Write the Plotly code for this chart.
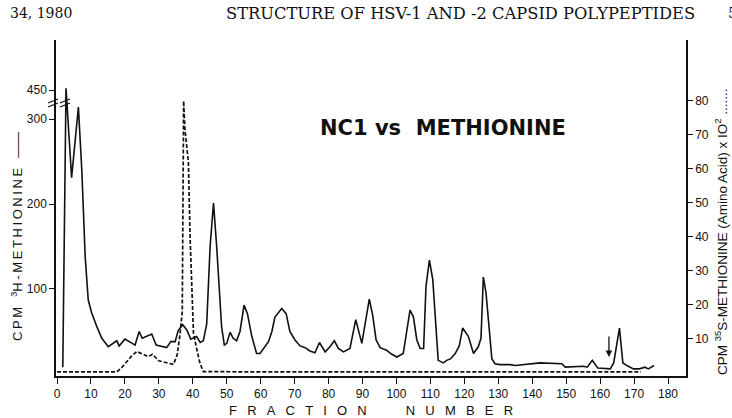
import plotly.graph_objects as go

# ---------------- data ----------------
# 3H-methionine (left axis, CPM) : fraction number / value
h3_fraction = [1.7, 2.65, 4.3, 6.3, 7.3, 8.3, 9.2, 10.2, 11.7, 13.2, 15.1, 17.6, 18.3, 20.0, 23.0,
               24.2, 25.1, 27.9, 29.2, 32.3, 33.5, 34.8, 35.7, 37.0, 38.2, 39.4, 41.1, 42.2, 43.1,
               44.1, 45.1, 46.1, 47.0, 48.5, 49.3, 50.0, 51.0, 51.9, 52.9, 53.9, 55.1, 56.1, 57.4,
               58.8, 59.8, 60.8, 62.3, 63.3, 64.2, 66.2, 67.5, 68.6, 70.1, 71.6, 73.1, 74.5, 76.0,
               77.3, 79.0, 80.4, 81.7, 82.9, 84.4, 86.3, 88.0, 89.8, 91.0, 92.0, 93.0, 94.0, 95.2,
               97.1, 98.3, 100.1, 102.0, 103.0, 104.0, 105.0, 106.0, 107.0, 108.0, 108.7, 109.7,
               110.7, 112.3, 113.8, 114.8, 116.0, 117.3, 118.5, 119.5, 121.2, 122.7, 124.1, 124.9,
               125.6, 126.4, 128.1, 129.0, 130.5, 133.5, 135.0, 138.0, 142.3, 148.7, 149.7, 155.1,
               156.2, 157.7, 159.3, 163.0, 164.0, 165.7, 166.7, 168.3, 169.8, 171.6, 173.2, 174.2,
               175.9]
h3_cpm = [8, 470, 231, 314, 240, 138, 87, 72, 56, 42, 32, 39, 33, 41, 34,
          50, 42, 47, 34, 31, 38, 38, 51, 58, 52, 41, 44, 37, 39,
          59, 150, 201, 152, 55, 34, 36, 49, 42, 39, 50, 81, 71, 44,
          24, 24, 30, 38, 50, 67, 77, 71, 50, 40, 33, 31, 27, 25,
          37, 26, 32, 39, 30, 26, 30, 64, 36, 64, 88, 69, 40, 31,
          28, 24, 20, 24, 48, 75, 67, 40, 30, 30, 103, 134,
          111, 16, 13, 16, 18, 24, 33, 54, 44, 24, 32, 42,
          114, 95, 18, 12, 11, 11, 10, 11, 13, 12, 8, 9,
          8, 16, 7, 6, 13, 54, 13, 9, 6, 6, 8, 6,
          10]

# 35S-methionine amino acid marker (right axis, CPM x 10^2)
s35_fraction = [0, 10, 17.6, 19.0, 20.5, 22.0, 23.5, 24.4, 26.9, 28.1, 29.9, 32.3, 34.3, 35.4,
                36.2, 36.9, 37.3, 37.7, 38.7, 39.2, 40.2, 41.2, 42.1, 43.1, 60, 100, 140, 172]
s35_cpm = [0.3, 0.3, 0.3, 1.5, 3.3, 5.0, 6.3, 5.9, 4.8, 5.5, 3.6, 3.0, 2.5, 5.3,
           11.0, 18.0, 80.0, 71.5, 62.0, 40.0, 11.7, 6.8, 2.9, 0.4, 0.3, 0.3, 0.3, 0.3]

x_ticks = list(range(0, 181, 10))
left_ticks = [100, 200, 300, 450]
right_ticks = [10, 20, 30, 40, 50, 60, 70, 80]
arrow_fraction = 162.6

# broken left axis: above 320 CPM the scale is compressed
BREAK = 320
ABOVE_SCALE = 14 / 130


def broken(v):
    return v if v <= BREAK else BREAK + (v - BREAK) * ABOVE_SCALE


# ---------------- layout geometry ----------------
W, H = 732, 418
L, R, T, B = 56, 46, 40, 42
PW, PH = W - L - R, H - T - B


def px(x):
    return (x - L) / PW


def py(y):
    return (H - B - y) / PH


FONT = "Liberation Sans"
SERIF = "DejaVu Serif"

fig = go.Figure()
fig.add_trace(go.Scatter(x=h3_fraction, y=[broken(v) for v in h3_cpm], mode="lines",
                         line=dict(color="#111", width=1.6), yaxis="y", showlegend=False))
fig.add_trace(go.Scatter(x=s35_fraction, y=s35_cpm, mode="lines",
                         line=dict(color="#111", width=1.7, dash="4px,2px"), yaxis="y2",
                         showlegend=False))

fig.update_layout(
    width=W, height=H,
    margin=dict(l=L, r=R, t=T, b=B),
    paper_bgcolor="white", plot_bgcolor="white",
    xaxis=dict(range=[-0.3, 185.3], tickvals=x_ticks, ticktext=[str(t) for t in x_ticks],
               showgrid=False, zeroline=False, showline=True, linecolor="#111", linewidth=1.5,
               ticks="outside", ticklen=6, tickwidth=1.2, tickcolor="#111",
               tickfont=dict(family=FONT, size=12, color="#111")),
    yaxis=dict(range=[-2.4, 393], tickvals=[broken(v) for v in left_ticks],
               ticktext=[str(v) for v in left_ticks],
               showgrid=False, zeroline=False, showline=True, linecolor="#111", linewidth=1.5,
               ticks="outside", ticklen=5, tickwidth=1.2, tickcolor="#111",
               tickfont=dict(family=FONT, size=12, color="#111")),
    yaxis2=dict(range=[-0.9, 97.9], overlaying="y", side="right", tickvals=right_ticks,
                showgrid=False, zeroline=False, showline=True, linecolor="#111", linewidth=1.5,
                ticks="outside", ticklen=5, tickwidth=1.2, tickcolor="#111",
                tickfont=dict(family=FONT, size=12, color="#111")),
)

ann = []
# page header
ann.append(dict(text="34, 1980", x=px(8), y=py(13), xanchor="left", yanchor="middle",
                font=dict(family=SERIF, size=14, color="#111")))
ann.append(dict(text="STRUCTURE OF HSV-1 AND -2 CAPSID POLYPEPTIDES", x=px(224), y=py(13),
                xanchor="left", yanchor="middle",
                font=dict(family=SERIF, size=16.3, color="#111")))
ann.append(dict(text="5", x=px(726), y=py(13), xanchor="left", yanchor="middle",
                font=dict(family=SERIF, size=15, color="#111")))
# chart title
ann.append(dict(text="<b>NC1 vs  METHIONINE</b>", x=px(443), y=py(128), xanchor="center",
                yanchor="middle", font=dict(family="DejaVu Sans", size=21, color="#111")))
# axis titles
ann.append(dict(text="C\u2009P\u2009M\u2002 <sup>3</sup>H\u2009-\u2009M\u2009E\u2009T\u2009H\u2009I\u2009O\u2009N\u2009I\u2009N\u2009E\u2002 \u2014\u2014",
                x=px(17), y=py(237), textangle=-90, xanchor="center", yanchor="middle",
                font=dict(family=FONT, size=13, color="#111")))
ann.append(dict(text="CPM <sup>35</sup>S-METHIONINE (Amino Acid) x IO<sup>2</sup> .......",
                x=px(721), y=py(232), textangle=-90, xanchor="center", yanchor="middle",
                font=dict(family=FONT, size=13.5, color="#111")))
sp = "\u2002\u2009\u200a"
ann.append(dict(text=sp.join("FRACTION") + "\u2003\u2003\u2003" + sp.join("NUMBER"),
                x=px(371), y=py(410), xanchor="center", yanchor="middle",
                font=dict(family=FONT, size=13, color="#111")))
for a in ann:
    a.update(xref="paper", yref="paper", showarrow=False)
# arrow marker
ann.append(dict(x=arrow_fraction, y=20, xref="x", yref="y", ax=0, ay=-22, text="",
                showarrow=True, arrowhead=2, arrowsize=1, arrowwidth=1.3, arrowcolor="#111"))
fig.update_layout(annotations=ann)

# axis-break marks (on the axis and on the curve)
shapes = []
for xc in (px(53), px(65)):
    for dy in (0, 4):
        shapes.append(dict(type="line", xref="paper", yref="paper",
                           x0=xc - 5 / PW, x1=xc + 5 / PW,
                           y0=py(105 - dy) - 2 / PH, y1=py(105 - dy) + 2 / PH,
                           line=dict(color="#111", width=1.3)))
fig.update_layout(shapes=shapes)

fig.write_html("out.html")
